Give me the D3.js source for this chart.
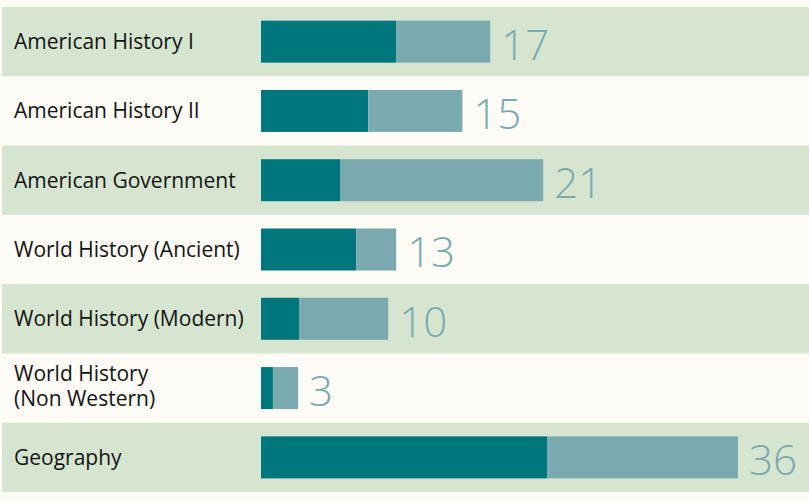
<!DOCTYPE html>
<html>
<head>
<meta charset="utf-8">
<script src="https://cdn.jsdelivr.net/npm/d3@7"></script>
<style>
  html, body { margin: 0; padding: 0; background: #fcfbf5; }
  svg { display: block; }
</style>
</head>
<body>
<svg id="chart" width="809" height="502"></svg>
<script>
const categories = [
  "American History I",
  "American History II",
  "American Government",
  "World History (Ancient)",
  "World History (Modern)",
  "World History\n(Non Western)",
  "Geography"
];
const darkValues  = [10.2, 8.1, 6.0, 7.2, 2.9, 0.9, 21.6];
const lightValues = [7.1, 7.1, 15.3, 3.0, 6.7, 1.9, 14.4];
const totals      = [17, 15, 21, 13, 10, 3, 36];

const W = 809, H = 502;
const svg = d3.select("#chart");

svg.append("rect").attr("width", W).attr("height", H).attr("fill", "#fcfbf5");

const y = d3.scaleBand().domain(categories).range([7, 492]).padding(0);
const x = d3.scaleLinear().domain([0, 36]).range([261, 738]);

const rows = svg.selectAll("g.row")
  .data(categories.map((c, i) => ({ c, i, dark: darkValues[i], light: lightValues[i], total: totals[i] })))
  .join("g").attr("class", "row")
  .attr("transform", d => `translate(0,${y(d.c)})`);

const bw = y.bandwidth();
const barH = 42;
const barY = (bw - barH) / 2;

rows.filter(d => d.i % 2 === 0).append("rect")
  .attr("x", 2).attr("y", 0).attr("width", W - 2).attr("height", bw)
  .attr("fill", "#d5e5cf");

rows.append("rect")
  .attr("x", x(0)).attr("y", barY)
  .attr("width", d => x(d.dark) - x(0)).attr("height", barH)
  .attr("fill", "#00777c");

rows.append("rect")
  .attr("x", d => x(d.dark)).attr("y", barY)
  .attr("width", d => x(d.dark + d.light) - x(d.dark)).attr("height", barH)
  .attr("fill", "#7aaab0");

rows.append("text")
  .attr("x", d => x(d.dark + d.light) + 11)
  .attr("y", bw / 2 + 18)
  .attr("font-family", "'Open Sans', sans-serif")
  .attr("font-weight", 300)
  .attr("font-size", 42)
  .attr("fill", "#7aaab0")
  .text(d => d.total);

rows.each(function(d) {
  const lines = d.c.split("\n");
  const g = d3.select(this);
  const t = g.append("text")
    .attr("font-family", "'Open Sans', sans-serif")
    .attr("font-size", 21)
    .attr("fill", "#141414")
    .attr("x", 14);
  if (lines.length === 1) {
    t.attr("y", bw / 2 + 7.5).text(lines[0]);
  } else {
    lines.forEach((l, k) => {
      t.append("tspan").attr("x", 14).attr("y", bw / 2 - 7 + 25 * k).text(l);
    });
  }
});
</script>
</body>
</html>
